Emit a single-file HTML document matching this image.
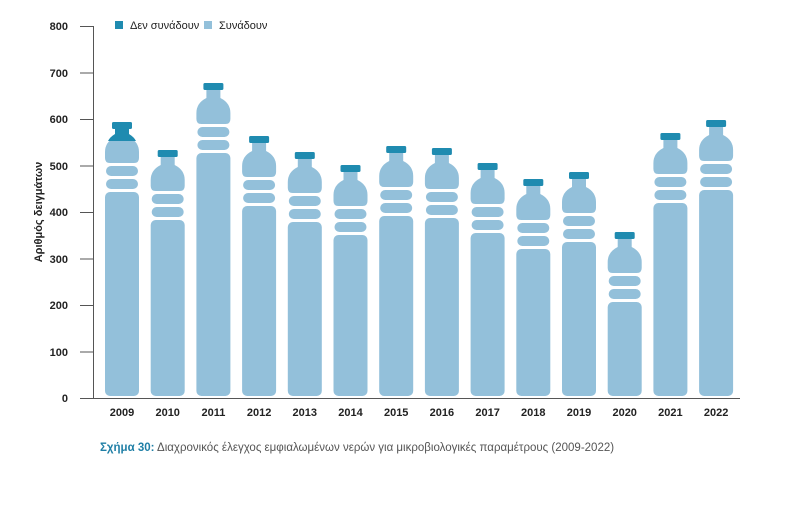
<!DOCTYPE html>
<html><head><meta charset="utf-8"><style>
body{margin:0;background:#fff;width:800px;height:500px;overflow:hidden;font-family:"Liberation Sans","DejaVu Sans",sans-serif}
</style></head><body>
<svg id="s" width="800" height="500" xmlns="http://www.w3.org/2000/svg" font-family="Liberation Sans, DejaVu Sans, sans-serif">
<g stroke="#555" stroke-width="1">
<line x1="93.5" y1="26" x2="93.5" y2="398"/>
<line x1="80" y1="26.5" x2="93" y2="26.5"/><line x1="80" y1="73" x2="93" y2="73"/><line x1="80" y1="119.5" x2="93" y2="119.5"/><line x1="80" y1="166" x2="93" y2="166"/><line x1="80" y1="212.5" x2="93" y2="212.5"/><line x1="80" y1="259" x2="93" y2="259"/><line x1="80" y1="305.5" x2="93" y2="305.5"/><line x1="80" y1="352" x2="93" y2="352"/><line x1="80" y1="398.5" x2="740" y2="398.5"/>
</g>
<g font-size="11" font-weight="bold" fill="#222" text-anchor="end">
<text x="68" y="30">800</text><text x="68" y="77">700</text><text x="68" y="123">600</text><text x="68" y="170">500</text><text x="68" y="216">400</text><text x="68" y="263">300</text><text x="68" y="309">200</text><text x="68" y="356">100</text><text x="68" y="402">0</text>
</g>
<text transform="translate(42,212) rotate(-90)" font-size="11" font-weight="bold" fill="#222" text-anchor="middle">Αριθμός δειγμάτων</text>
<rect x="115" y="21" width="8" height="8" fill="#1f8bb0"/><text x="130" y="29" font-size="11" fill="#222">Δεν συνάδουν</text>
<rect x="204" y="21" width="8" height="8" fill="#93c0da"/><text x="219" y="29" font-size="11" fill="#222">Συνάδουν</text>
<g id="b"></g>
<g font-size="11" font-weight="bold" fill="#222" text-anchor="middle" id="xl"></g>
<text x="100" y="451" font-size="11.5" fill="#555"><tspan font-weight="bold" fill="#1f7fa6">Σχήμα 30:</tspan> Διαχρονικός έλεγχος εμφιαλωμένων νερών για μικροβιολογικές παραμέτρους (2009-2022)</text>
</svg>
<script>
var tops=[122,150,83,136,152,165,146,148,163,179,172,232,133,120];
var L="#93c0da",D="#1f8bb0",h="",xl="";
for(var i=0;i<14;i++){
 var cx=122+i*45.7,T=tops[i],y0=T+70;
 h+='<rect x="'+(cx-17)+'" y="'+y0+'" width="34" height="'+(396-y0)+'" rx="5" fill="'+L+'"/>';
 h+='<rect x="'+(cx-16)+'" y="'+(y0-13)+'" width="32" height="10" rx="5" fill="'+L+'"/>';
 h+='<rect x="'+(cx-16)+'" y="'+(y0-26)+'" width="32" height="10" rx="5" fill="'+L+'"/>';
 h+='<path d="M'+(cx-17)+' '+(y0-34)+' L'+(cx-17)+' '+(y0-40)+' Q'+(cx-17)+' '+(y0-50)+' '+(cx-7)+' '+(y0-55)+' L'+(cx-7)+' '+(y0-63)+' L'+(cx+7)+' '+(y0-63)+' L'+(cx+7)+' '+(y0-55)+' Q'+(cx+17)+' '+(y0-50)+' '+(cx+17)+' '+(y0-40)+' L'+(cx+17)+' '+(y0-34)+' Q'+(cx+17)+' '+(y0-29)+' '+(cx+12)+' '+(y0-29)+' L'+(cx-12)+' '+(y0-29)+' Q'+(cx-17)+' '+(y0-29)+' '+(cx-17)+' '+(y0-34)+' Z" fill="'+L+'"/>';
 if(i==0) h+='<path d="M'+(cx-7)+' '+(T+6)+' L'+(cx+7)+' '+(T+6)+' L'+(cx+7)+' '+(T+12)+' Q'+(cx+12)+' '+(T+15)+' '+(cx+14)+' '+(T+19)+' L'+(cx-14)+' '+(T+19)+' Q'+(cx-12)+' '+(T+15)+' '+(cx-7)+' '+(T+12)+' Z" fill="'+D+'"/>';
 h+='<rect x="'+(cx-10)+'" y="'+T+'" width="20" height="7" rx="1.5" fill="'+D+'"/>';
 xl+='<text x="'+cx+'" y="416">'+(2009+i)+'</text>';
}
document.getElementById('b').innerHTML=h;
document.getElementById('xl').innerHTML=xl;
</script>
</body></html>
